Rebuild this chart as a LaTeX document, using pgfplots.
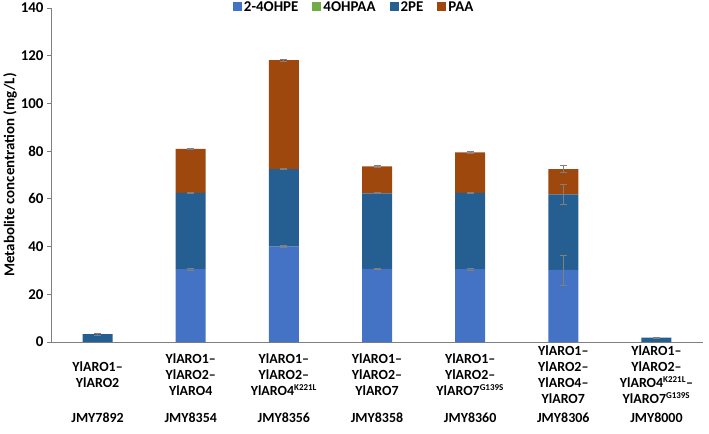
\documentclass[border=0pt]{standalone}
\usepackage{pgfplots}
\pgfplotsset{compat=1.18}
\usepackage{fontspec}
\setmainfont{Carlito}
\definecolor{cA}{HTML}{4472C4}
\definecolor{cB}{HTML}{70AD47}
\definecolor{cC}{HTML}{255E91}
\definecolor{cD}{HTML}{9E480E}
\definecolor{axgray}{HTML}{7F7F7F}
\newcommand{\sups}[1]{\textsuperscript{\fontsize{9}{9}\selectfont #1}}
\pgfplotsset{
  common/.style={
    scale only axis, width=652bp, height=334bp,
    xmin=-0.5, xmax=6.5, ymin=0, ymax=140,
  }
}
\begin{document}
\begin{tikzpicture}
\begin{axis}[
  common,
  name=main,
  ybar stacked, bar width=30bp,
  axis x line*=bottom, axis y line*=left,
  axis line style={axgray, line width=1pt},
  ytick={0,20,...,140},
  tick align=outside, major tick length=4bp,
  y tick style={axgray, line width=0.8pt},
  x tick style={draw=none},
  yticklabel style={font=\bfseries\fontsize{15}{17}\selectfont},
  /pgf/number format/assume math mode=true,
  xtick={0,...,6},
  xticklabels={
    {YlARO1–\\YlARO2},
    {YlARO1–\\YlARO2–\\YlARO4},
    {YlARO1–\\YlARO2–\\YlARO4\sups{K221L}},
    {YlARO1–\\YlARO2–\\YlARO7},
    {YlARO1–\\YlARO2–\\YlARO7\sups{G139S}},
    {YlARO1–\\YlARO2–\\YlARO4–\\YlARO7},
    {YlARO1–\\YlARO2–\\YlARO4\sups{K221L}–\\YlARO7\sups{G139S}}},
  xticklabel style={font=\bfseries\fontsize{14}{16}\selectfont, align=center, anchor=center, yshift=-29bp},
  extra x ticks={0,...,6},
  extra x tick labels={JMY7892,JMY8354,JMY8356,JMY8358,JMY8360,JMY8306,JMY8000},
  extra x tick style={tick style={draw=none}, tick label style={font=\bfseries\fontsize{15}{17}\selectfont, yshift=-43bp}},
  ylabel={Metabolite concentration (mg/L)},
  ylabel style={font=\bfseries\fontsize{15}{17}\selectfont, at={(axis description cs:-0.0629,0.5)}, anchor=center},
  legend style={at={(axis description cs:0.465,1.003)}, anchor=center, draw=none, fill=none, legend columns=4,
    font=\bfseries\fontsize{15}{17}\selectfont,
    /tikz/every even column/.append style={column sep=12bp}},
  legend image code/.code={\fill[#1] (0bp,-4.5bp) rectangle (9bp,4.5bp);},
]
\addplot[fill=cA, draw=none] coordinates {(0,0) (1,30.5) (2,40) (3,30.6) (4,30.5) (5,30.2) (6,0)};
\addlegendentry{2-4OHPE}
\addplot[fill=cB, draw=none] coordinates {(0,0) (1,0) (2,0) (3,0) (4,0) (5,0) (6,0)};
\addlegendentry{4OHPAA}
\addplot[fill=cC, draw=none] coordinates {(0,3.3) (1,32) (2,32.5) (3,31.7) (4,32) (5,31.7) (6,1.8)};
\addlegendentry{2PE}
\addplot[fill=cD, draw=none] coordinates {(0,0) (1,18.5) (2,45.7) (3,11.3) (4,17) (5,10.6) (6,0)};
\addlegendentry{PAA}
\end{axis}
\begin{axis}[
  common, hide axis,
]
\addplot[draw=none, mark=none, error bars/.cd, y dir=both, y explicit,
  error bar style={draw=axgray, line width=0.8pt},
  error mark options={rotate=90, mark size=3.5bp, draw=axgray, line width=0.8pt}]
  coordinates {
  (0,3.3) +- (0,0.5)
  (1,30.5) +- (0,0.3) (1,62.5) +- (0,0.2) (1,81) +- (0,0.3)
  (2,40) +- (0,0.3) (2,72.5) +- (0,0.2) (2,118.2) +- (0,0.4)
  (3,30.6) +- (0,0.3) (3,62.3) +- (0,0.2) (3,73.6) +- (0,0.3)
  (4,30.5) +- (0,0.3) (4,62.5) +- (0,0.2) (4,79.5) +- (0,0.3)
  (5,30.2) +- (0,6.3) (5,61.9) +- (0,4.1) (5,72.5) +- (0,1.5)
  (6,1.8) +- (0,0.3)
  };
\end{axis}
\pgfresetboundingbox
\path ([xshift=-51bp,yshift=-92bp]main.south west) rectangle ([xshift=6bp,yshift=8bp]main.north east);
\end{tikzpicture}
\end{document}
